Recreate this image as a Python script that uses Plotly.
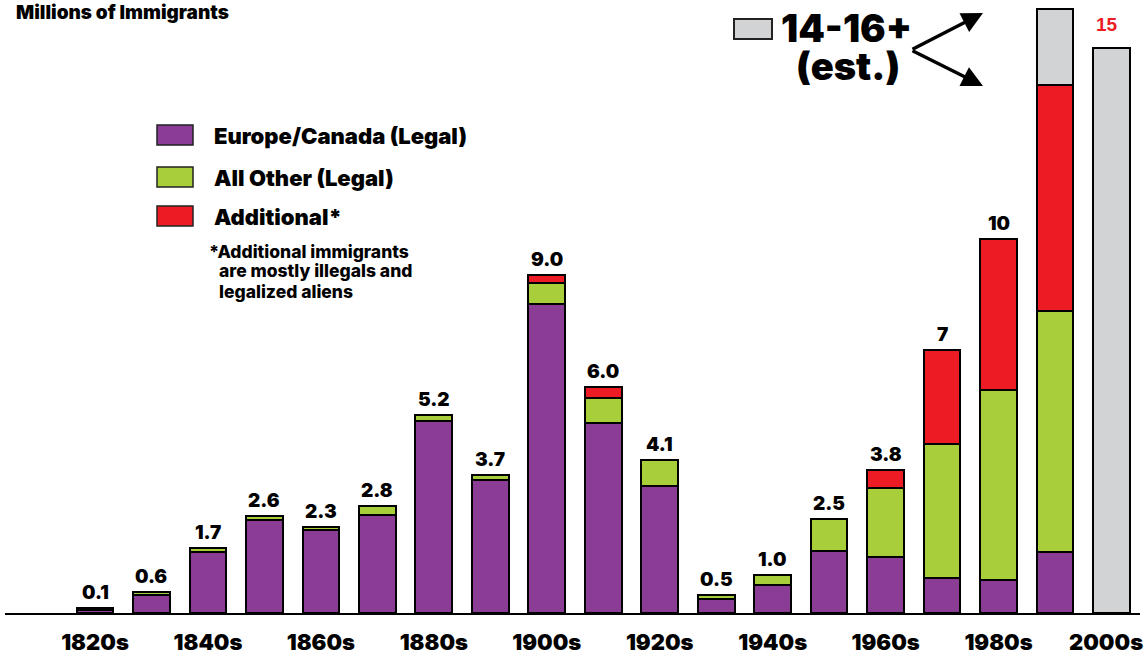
import plotly.graph_objects as go

# decades and values in millions
decades = ["1820s", "1830s", "1840s", "1850s", "1860s", "1870s", "1880s", "1890s",
           "1900s", "1910s", "1920s", "1930s", "1940s", "1950s", "1960s", "1970s",
           "1980s", "1990s", "2000s"]
europe = [0.08, 0.48, 1.62, 2.48, 2.21, 2.60, 5.10, 3.53, 8.24, 5.05, 3.38, 0.38,
          0.75, 1.64, 1.50, 0.94, 0.88, 1.63, None]
other = [0.06, 0.07, 0.12, 0.09, 0.09, 0.25, 0.16, 0.14, 0.54, 0.68, 0.69, 0.10,
         0.27, 0.85, 1.82, 3.56, 5.07, 6.41, None]
additional = [None, None, None, None, None, None, None, None, 0.22, 0.30, None, None,
              None, None, 0.49, 2.50, 4.02, 6.02, None]
estimate = [None] * 17 + [2.01, 15.03]
total_labels = ["0.1", "0.6", "1.7", "2.6", "2.3", "2.8", "5.2", "3.7", "9.0", "6.0",
                "4.1", "0.5", "1.0", "2.5", "3.8", "7", "10", "", "15"]
tick_decades = decades[::2]

PURPLE = "#8b3d96"
GREEN = "#a8cf3a"
RED = "#ed1c24"
GRAY = "#d1d3d4"
HEAVY = dict(family="Inter", weight=900, color="black")

W, H = 1146, 656
ML, MR, MT, MB = 5, 6, 0, 43


def px(x):
    return (x - ML) / (W - ML - MR)


def py(y):
    return (H - MB - y) / (H - MB - MT)


fig = go.Figure()
for name, vals, col in [("Europe/Canada (Legal)", europe, PURPLE),
                        ("All Other (Legal)", other, GREEN),
                        ("Additional*", additional, RED),
                        ("14-16+ (est.)", estimate, GRAY)]:
    fig.add_bar(x=decades, y=vals, name=name, marker_color=col,
                marker_line=dict(color="black", width=2), width=0.65)

# value labels above the bars
for i, d in enumerate(decades):
    tot = sum(v[i] or 0 for v in (europe, other, additional, estimate))
    if not total_labels[i]:
        continue
    if d == "2000s":
        fig.add_annotation(x=d, y=tot, text=total_labels[i], showarrow=False,
                           yanchor="bottom", yshift=11, xshift=-4,
                           font=dict(family="Liberation Sans", size=19, color=RED, weight="bold"))
    else:
        fig.add_annotation(x=d, y=tot, text=total_labels[i], showarrow=False,
                           yanchor="bottom", yshift=2, font=dict(HEAVY, size=19))

# last decade label is nudged left so it stays inside the page
fig.add_annotation(x=tick_decades[-1], y=py(642), xref="x", yref="paper",
                   text=tick_decades[-1], showarrow=False, xshift=-5,
                   xanchor="center", yanchor="middle", font=dict(HEAVY, size=22))

# title
fig.add_annotation(x=px(14), y=py(12.5), xref="paper", yref="paper", xanchor="left",
                   yanchor="middle", text="Millions of Immigrants", showarrow=False,
                   font=dict(HEAVY, size=19))

# legend drawn by hand
legend = [("Europe/Canada (Legal)", PURPLE, 135), ("All Other (Legal)", GREEN, 177),
          ("Additional*", RED, 216)]
for label, col, yc in legend:
    fig.add_shape(type="rect", xref="paper", yref="paper",
                  x0=px(157), x1=px(193), y0=py(yc - 10), y1=py(yc + 10),
                  fillcolor=col, line=dict(color="#222", width=1.5))
    fig.add_annotation(x=px(212), y=py(yc + 1), xref="paper", yref="paper", xanchor="left",
                       yanchor="middle", text=label, showarrow=False,
                       font=dict(HEAVY, size=22))

note = [("*Additional immigrants", 207, 251), ("are mostly illegals and", 217, 270),
        ("legalized aliens", 217, 291)]
for txt, x0, yc in note:
    fig.add_annotation(x=px(x0), y=py(yc), xref="paper", yref="paper", xanchor="left",
                       yanchor="middle", text=txt, showarrow=False,
                       font=dict(family="Inter", size=17.5, weight=800, color="black"))

# estimate callout
fig.add_shape(type="rect", xref="paper", yref="paper",
              x0=px(734), x1=px(772), y0=py(39), y1=py(19),
              fillcolor=GRAY, line=dict(color="#222", width=2))
fig.add_annotation(x=px(846), y=py(28), xref="paper", yref="paper", xanchor="center",
                   yanchor="middle", text="14-16+", showarrow=False, font=dict(HEAVY, size=38))
fig.add_annotation(x=px(848), y=py(66), xref="paper", yref="paper", xanchor="center",
                   yanchor="middle", text="(est.)", showarrow=False, font=dict(HEAVY, size=38))
for tip_y in (13, 86):
    fig.add_annotation(x=px(983), y=py(tip_y), xref="paper", yref="paper",
                       ax=911 - 983, ay=50 - tip_y, text="", showarrow=True,
                       arrowhead=2, arrowsize=1.2, arrowwidth=3.5, arrowcolor="black",
                       standoff=0)

fig.update_layout(
    barmode="stack",
    width=W, height=H,
    margin=dict(l=ML, r=MR, t=MT, b=MB, autoexpand=False),
    paper_bgcolor="white", plot_bgcolor="white",
    showlegend=False,
    bargap=0.35,
)
fig.update_xaxes(type="category", range=[-1.594, 18.505], automargin=False,
                 tickvals=tick_decades[:-1], ticktext=tick_decades[:-1],
                 tickfont=dict(HEAVY, size=22), ticks="", ticklabelstandoff=9,
                 showline=True, linecolor="black", linewidth=2, showgrid=False)
fig.update_yaxes(range=[0, 16.32], visible=False, showgrid=False, automargin=False)

fig.write_html("out.html", config={"displayModeBar": False},
               post_script="document.body.style.margin='0';document.body.style.overflow='hidden';")
